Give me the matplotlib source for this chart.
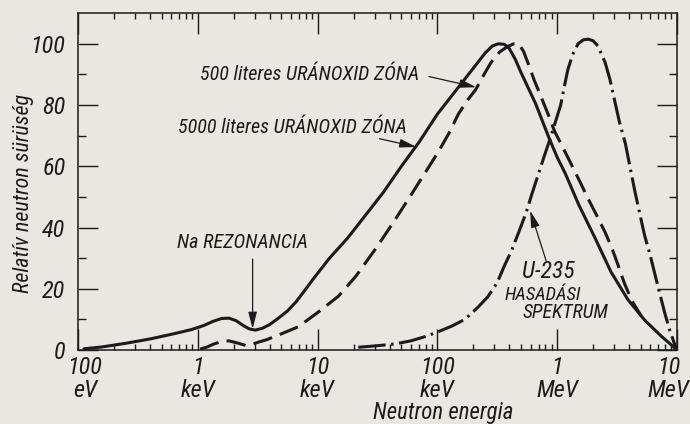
import matplotlib.pyplot as plt
import matplotlib.transforms as mtransforms
import numpy as np

plt.rcParams['font.family'] = ['Liberation Sans Narrow', 'DejaVu Sans Condensed',
                               'Roboto Condensed', 'Liberation Sans', 'DejaVu Sans']
plt.rcParams['font.style'] = 'italic'
plt.rcParams['font.stretch'] = 'condensed'
plt.rcParams['font.size'] = 14.5

paper = '#e8e7e1'
ink = '#1b1b1b'

# energies are read as log10(E / eV)
solid_logE = [2.05, 2.2, 2.4, 2.6, 2.8, 2.95, 3.05, 3.13, 3.2, 3.26, 3.32, 3.38, 3.43,
              3.48, 3.54, 3.6, 3.67, 3.75, 3.82, 3.9, 3.97, 4.1, 4.25, 4.4, 4.55, 4.7,
              4.85, 5.0, 5.12, 5.23, 5.32, 5.4, 5.46, 5.51, 5.56, 5.6, 5.65, 5.7, 5.76,
              5.82, 5.88, 5.93, 6.0, 6.07, 6.18, 6.32, 6.45, 6.59, 6.73, 6.87, 6.95, 7.0]
solid_val = [0.4, 1.0, 2.2, 3.6, 5.3, 6.7, 8.0, 9.4, 10.3, 10.4, 9.6, 8.0, 6.9,
             6.5, 7.1, 8.3, 10.3, 12.8, 15.7, 19.8, 23.5, 30, 36.5, 44, 51.5, 60,
             68, 77, 83, 88.5, 93, 97, 99.3, 100, 99.8, 98.5, 95, 90.5, 85.5,
             80.5, 74.5, 69.5, 63, 57.5, 47.5, 36.3, 25.5, 16.5, 9.8, 4.5, 1.8, 0]

dashed_logE = [3.02, 3.08, 3.13, 3.2, 3.26, 3.33, 3.4, 3.45, 3.5, 3.57, 3.675, 3.84,
               4.01, 4.175, 4.32, 4.48, 4.63, 4.78, 4.9, 5.01, 5.1, 5.175, 5.25, 5.32,
               5.39, 5.45, 5.52, 5.59, 5.64, 5.68, 5.72, 5.76, 5.81, 5.87, 5.93, 5.98,
               6.05, 6.12, 6.19, 6.26, 6.33, 6.4, 6.46, 6.51, 6.56, 6.62, 6.7]
dashed_val = [0.3, 1.0, 1.9, 2.8, 3.0, 2.3, 1.5, 1.8, 2.5, 3.3, 4.9, 7.6,
              12.5, 17.6, 24.1, 32.8, 41.5, 50.6, 58, 64.8, 71, 77, 81.5, 85,
              90, 94, 97.3, 99.2, 100, 100, 97.5, 93.4, 88, 82.3, 76.5, 71.3,
              66, 60.5, 55, 49.3, 44, 38.5, 33, 27.6, 22, 16.4, 11.2]

fission_logE = [4.34, 4.5, 4.65, 4.78, 4.9, 5.01, 5.12, 5.23, 5.34, 5.42, 5.5, 5.56,
                5.62, 5.68, 5.74, 5.79, 5.84, 5.89, 5.94, 5.99, 6.03, 6.06, 6.09, 6.13,
                6.175, 6.22, 6.26, 6.3, 6.34, 6.4, 6.44, 6.48, 6.52, 6.57, 6.61, 6.65,
                6.69, 6.73, 6.78, 6.82, 6.86, 6.9, 6.94, 6.98, 7.0]
fission_val = [0.9, 1.4, 2.0, 3.0, 4.4, 6.0, 7.8, 10, 14, 17.3, 22, 27.5,
               32.5, 38.5, 44.7, 51, 57, 63, 68.8, 75, 80, 86, 91.6, 96.5,
               100, 101.3, 101.5, 101, 99.3, 94, 88.5, 81.5, 74.5, 67.4, 59.5, 51.7,
               44.5, 37.5, 30.5, 24.2, 18, 11.9, 6.5, 2, 0]

tick_energies = [1e2, 1e3, 1e4, 1e5, 1e6, 1e7]
tick_labels = ['100\neV', '1\nkeV', '10\nkeV', '100\nkeV', '1\nMeV', '10\nMeV']

fig = plt.figure(figsize=(6.9, 4.24), dpi=100, facecolor=paper)
ax = fig.add_axes([0.113, 0.1745, 0.868, 0.7945], facecolor=paper)

lw = 2.2
ax.plot(10 ** np.array(solid_logE), solid_val, color=ink, lw=lw, solid_capstyle='round')
ax.plot(10 ** np.array(dashed_logE), dashed_val, color=ink, lw=lw, dashes=(6.4, 2.7))
ax.plot(10 ** np.array(fission_logE), fission_val, color=ink, lw=lw,
        dashes=(9, 1.8, 0.8, 1.8))

ax.set_xscale('log')
ax.set_xlim(1e2, 1e7)
ax.set_ylim(0, 110)

ax.set_xticks(tick_energies, tick_labels)
ax.xaxis.set_minor_locator(plt.LogLocator(base=10, subs=np.arange(2, 10)))
ax.xaxis.set_minor_formatter(plt.NullFormatter())
ax.set_yticks([0, 20, 40, 60, 80, 100])
ax.set_yticks([10, 30, 50, 70, 90], minor=True)

ax.tick_params(which='both', direction='in', top=True, right=True, width=1.0,
               color=ink, labelcolor=ink, labelsize=17.5)
ax.tick_params(axis='x', which='major', length=15, pad=4)
ax.tick_params(axis='x', which='minor', length=4.5)
ax.tick_params(axis='y', which='major', length=14.5, pad=9)
ax.tick_params(axis='y', which='minor', length=6)
for sp in ax.spines.values():
    sp.set_linewidth(1.1)
    sp.set_color(ink)

# end labels are pulled inwards in the original
xlabels = ax.get_xticklabels()
for lab in xlabels:
    lab.set_linespacing(1.05)
for lab, dx in [(xlabels[0], 7), (xlabels[-1], -8)]:
    lab.set_transform(lab.get_transform() +
                      mtransforms.ScaledTranslation(dx / 100, 0, fig.dpi_scale_trans))

ax.set_xlabel('Neutron energia', fontsize=16.5, color=ink)
ax.xaxis.set_label_coords(0.61, -0.15)
ax.set_ylabel('Relatív neutron sürüség', fontsize=15.8, color=ink)
ax.yaxis.set_label_coords(-0.074, 0.466)

arrow = dict(arrowstyle='-|>,head_length=0.7,head_width=0.18', lw=0.9, color=ink,
             shrinkA=0, shrinkB=0)

ax.text(10 ** 3.02, 90, '500 literes URÁNOXID ZÓNA', ha='left', va='center', color=ink)
ax.annotate('', xy=(10 ** 5.325, 85.8), xytext=(10 ** 4.93, 89.3), arrowprops=arrow)

ax.text(10 ** 2.833, 72.7, '5000 literes URÁNOXID ZÓNA', ha='left', va='center', color=ink)
ax.annotate('', xy=(10 ** 4.825, 66.3), xytext=(10 ** 4.517, 69), arrowprops=arrow)

ax.text(10 ** 3.375, 35.2, 'Na REZONANCIA', ha='center', va='center', color=ink)
ax.annotate('', xy=(10 ** 3.458, 6.9), xytext=(10 ** 3.458, 29.7), arrowprops=arrow)

ax.text(10 ** 5.708, 25.7, 'U-235', ha='left', va='center', color=ink, fontsize=17)
ax.text(10 ** 5.558, 17.9, 'HASADÁSI', ha='left', va='center', color=ink, fontsize=13.5)
ax.text(10 ** 5.708, 12.4, 'SPEKTRUM', ha='left', va='center', color=ink, fontsize=14.2)
ax.annotate('', xy=(10 ** 5.775, 45.5), xytext=(10 ** 5.908, 29.2), arrowprops=arrow)

fig.savefig('out.png', dpi=100, facecolor=paper)
